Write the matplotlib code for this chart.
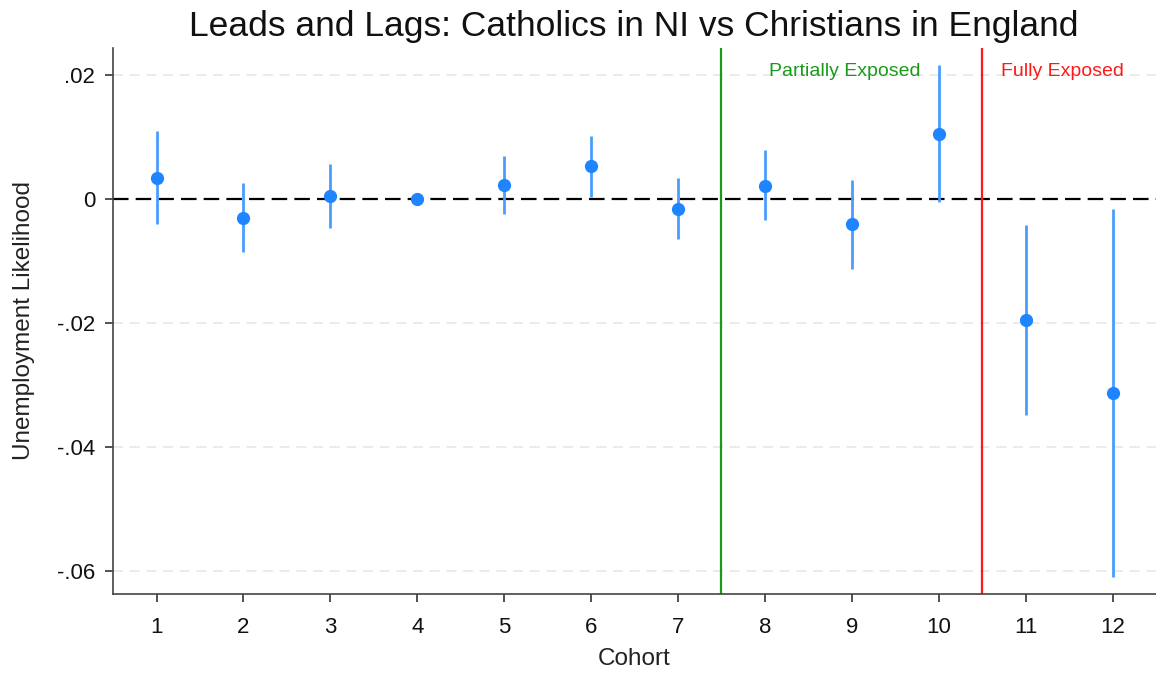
import matplotlib
matplotlib.use("Agg")
import matplotlib.pyplot as plt

plt.rcParams['font.family'] = ['Liberation Sans', 'DejaVu Sans']

cohorts = [1, 2, 3, 4, 5, 6, 7, 8, 9, 10, 11, 12]
coef = [0.00344, -0.00302, 0.00048, 0.0, 0.00226, 0.00532, -0.00161, 0.00215, -0.00408, 0.01056, -0.01948, -0.0313]
ci_low = [-0.00408, -0.0086, -0.00473, 0.0, -0.00242, 0.00037, -0.0065, -0.00344, -0.01134, -0.00052, -0.0348, -0.0610]
ci_high = [0.0110, 0.00263, 0.0056, 0.0, 0.00694, 0.0102, 0.00344, 0.00785, 0.0030, 0.02165, -0.00421, -0.00161]
yticks = [0.02, 0.0, -0.02, -0.04, -0.06]
yticklabels = ['.02', '0', '-.02', '-.04', '-.06']

fig = plt.figure(figsize=(11.56, 6.74), dpi=100)
ax = fig.add_axes([0.0978, 0.1187, 0.9022, 0.8101])

for y in yticks:
    if y != 0:
        ax.axhline(y, color='#e8e8e8', lw=1.2, ls=(0, (6, 4)), zorder=0)
ax.axhline(0, color='black', lw=1.6, ls=(0, (7, 3.2)), zorder=1)

ax.axvline(7.5, color='#1a9a1a', lw=1.6, zorder=2)
ax.axvline(10.5, color='#ff1a1a', lw=1.6, zorder=2)

ax.vlines(cohorts, ci_low, ci_high, color='#4a9dff', lw=2.0, zorder=3)
ax.plot(cohorts, coef, 'o', color='#1e84ff', markersize=8.5, zorder=4)

ax.text(8.05, 0.0206, 'Partially Exposed', color='#1a9a1a', fontsize=14, va='center', ha='left')
ax.text(10.72, 0.0206, 'Fully Exposed', color='#ff1a1a', fontsize=14, va='center', ha='left')

ax.set_xlim(0.5, 12.5)
ax.set_ylim(-0.0637, 0.02435)
ax.set_xticks(cohorts)
ax.set_xticklabels([str(c) for c in cohorts])
ax.set_yticks(yticks)
ax.set_yticklabels(yticklabels)
ax.tick_params(axis='both', labelsize=16, colors='#333333', labelcolor='#111111', length=6, width=1.2, direction='out')
ax.tick_params(axis='x', pad=10.5)
ax.tick_params(axis='y', pad=7)
for s in ['top', 'right']:
    ax.spines[s].set_visible(False)
for s in ['left', 'bottom']:
    ax.spines[s].set_color('#444444')
    ax.spines[s].set_linewidth(1.2)

ax.set_xlabel('Cohort', fontsize=17.5, color='#222222', labelpad=7.5)
ax.set_ylabel('Unemployment Likelihood', fontsize=17.5, color='#222222', labelpad=16)
fig.text(0.548, 1 - 36 / 674, 'Leads and Lags: Catholics in NI vs Christians in England',
         fontsize=25.5, ha='center', va='baseline', color='#111111')

fig.savefig('out.png', dpi=100)
